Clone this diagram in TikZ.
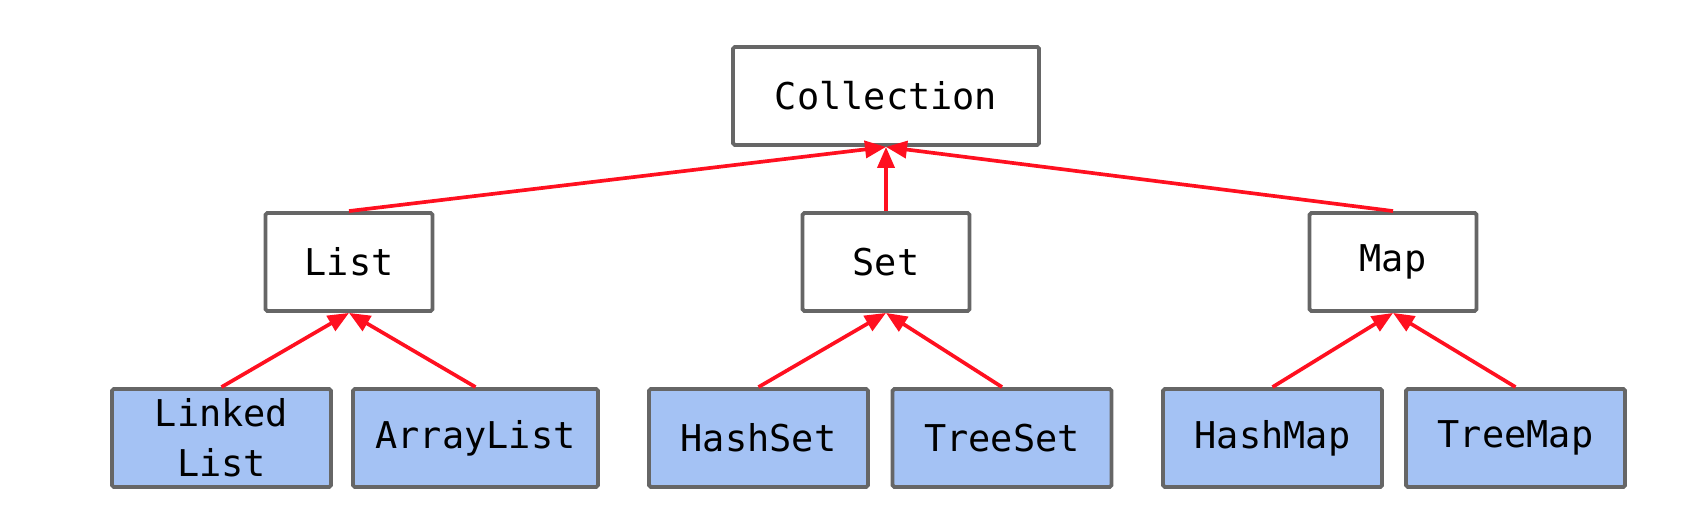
\documentclass[tikz,border=0pt]{standalone}
\usepackage{fontspec}
\setmonofont{DejaVu Sans Mono}
\usetikzlibrary{arrows.meta,positioning}
\definecolor{hierboxgray}{RGB}{102,102,102}
\definecolor{hierfillblue}{RGB}{164,194,244}
\definecolor{hierarrowred}{RGB}{255,16,32}
\tikzset{
  hier box/.style={
    draw=hierboxgray,
    rounded corners=1pt,
    line width=2.2pt,
    inner sep=0pt,
    align=center,
    fill=white,
    minimum height=1.96cm,
    font=\ttfamily\fontsize{21}{28.5}\selectfont,
  },
  hier arrow/.style={
    -{Triangle[length=4.2mm,width=3.4mm]},
    line width=2.1pt,
    draw=hierarrowred,
  },
}

\begin{document}
\begin{tikzpicture}[x=1cm,y=1cm]
  \tikzstyle{impl}=[hier box, fill=hierfillblue, minimum width=4.38cm]
  \tikzstyle{iface}=[hier box, minimum width=3.34cm]
  \useasboundingbox (0,0) rectangle (34.16,10.28);

  % Root
  \node[hier box, minimum width=6.12cm] (collection) at (17.72,8.36) {Collection};

  % Interfaces
  \node[iface] (list) at (6.98,5.04) {List};
  \node[iface] (set)  at (17.72,5.04) {Set};
  \node[iface] (map)  at (27.86,5.04) {Map};

  % Implementations
  \node[impl] (linkedlist) at (4.43,1.52) {Linked\\List};
  \node[impl, minimum width=4.90cm] (arraylist) at (9.51,1.52) {ArrayList};
  \node[impl] (hashset) at (15.17,1.52) {HashSet};
  \node[impl] (treeset) at (20.04,1.52) {TreeSet};
  \node[impl] (hashmap) at (25.45,1.52) {HashMap};
  \node[impl] (treemap) at (30.31,1.52) {TreeMap};

  \foreach \child in {list,set,map}
    \draw[hier arrow] (\child.north) -- (collection.south);

  \foreach \child/\parent in {linkedlist/list,arraylist/list,hashset/set,treeset/set,hashmap/map,treemap/map}
    \draw[hier arrow] (\child.north) -- (\parent.south);
\end{tikzpicture}
\end{document}
